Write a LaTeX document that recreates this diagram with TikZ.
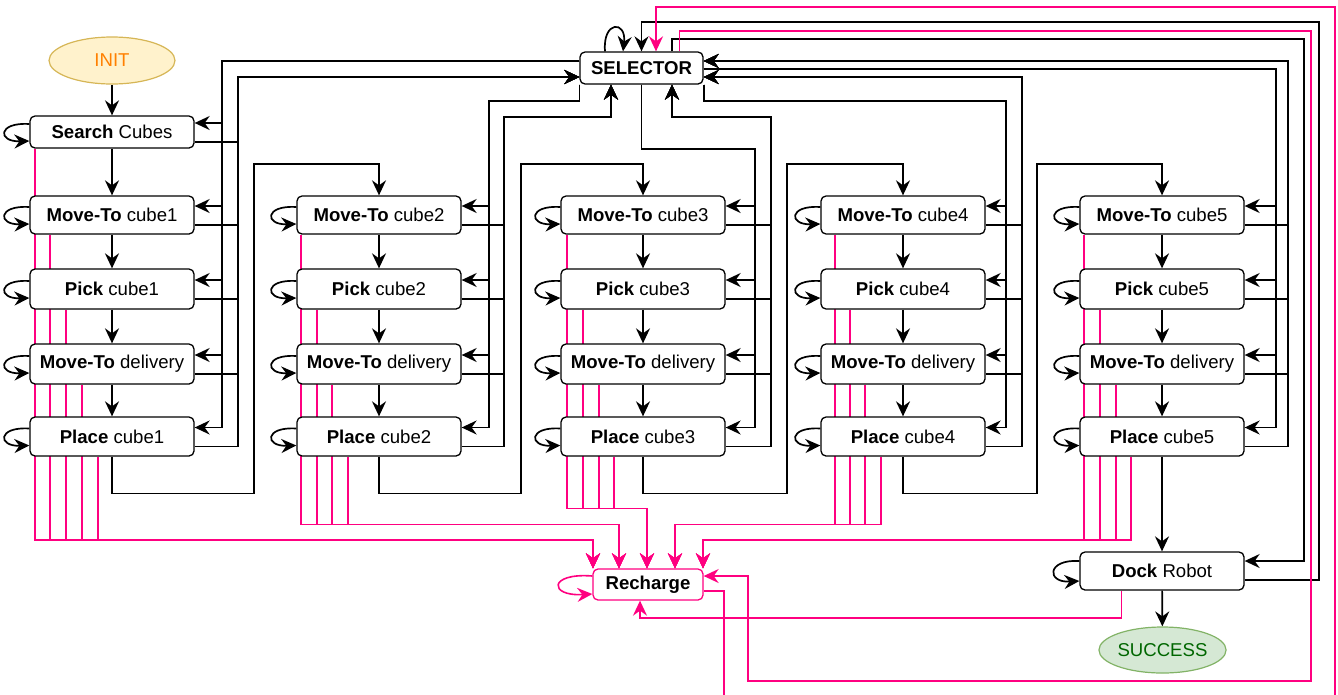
\documentclass[tikz,border=0pt]{standalone}
\usepackage{fontspec}
\setmainfont{Liberation Sans}
\usetikzlibrary{arrows.meta,calc,shapes.geometric}
\definecolor{pinkc}{HTML}{FF0080}
\definecolor{initfill}{HTML}{FFF2CC}
\definecolor{initdraw}{HTML}{D6B656}
\definecolor{inittext}{HTML}{FF8000}
\definecolor{succfill}{HTML}{D5E8D4}
\definecolor{succdraw}{HTML}{82B366}
\definecolor{succtext}{HTML}{006600}
\pgfdeclarelayer{edges}
\pgfsetlayers{edges,main}
\begin{document}
\begin{tikzpicture}[x=1pt,y=-1pt,
  font=\fontsize{18.6pt}{22pt}\selectfont,
  box/.style={draw, rounded corners=5pt, line width=1.3pt, fill=white, minimum width=164pt, minimum height=39pt, inner sep=0pt},
  oval/.style={ellipse, line width=1.2pt, minimum width=126pt, minimum height=47pt, inner sep=0pt},
  arr/.style={line width=1.7pt, -{Stealth[length=15pt,width=14pt,inset=5pt]}},
  parr/.style={pinkc, line width=1.6pt, -{Stealth[length=15pt,width=14pt,inset=5pt]}}
]
\useasboundingbox (0,0) rectangle (1338,694);
\clip (0,0) rectangle (1338,694);

% nodes
\node[oval, draw=initdraw, fill=initfill, text=inittext] (init) at (112,60.5) {INIT};
\node[box, minimum width=123pt, minimum height=32pt] (sel) at (641.5,68) {\textbf{SELECTOR}};
\node[box, minimum height=32pt] (s) at (112,132) {\textbf{Search} Cubes};
\foreach \i/\cx in {1/112,2/379,3/643,4/903,5/1162} {
  \node[box, minimum height=38pt] (m\i) at (\cx,215) {\textbf{Move-To} cube\i};
  \node[box, minimum height=40pt] (p\i) at (\cx,289) {\textbf{Pick} cube\i};
  \node[box, minimum height=40pt] (d\i) at (\cx,364) {\textbf{Move-To} delivery};
  \node[box, minimum height=39pt] (l\i) at (\cx,436.5) {\textbf{Place} cube\i};
}
\node[box, minimum height=38pt] (dock) at (1162,571) {\textbf{Dock} Robot};
\node[box, draw=pinkc, minimum width=110pt, minimum height=31pt] (rech) at (648,584.5) {\textbf{Recharge}};
\node[oval, draw=succdraw, fill=succfill, text=succtext, minimum width=127pt, minimum height=46pt] (succ) at (1162.5,650) {SUCCESS};

\begin{pgfonlayer}{edges}
% vertical chains
\draw[arr] (init) -- (s);
\draw[arr] (s) -- (m1);
\foreach \i in {1,...,5} {
  \draw[arr] (m\i) -- (p\i);
  \draw[arr] (p\i) -- (d\i);
  \draw[arr] (d\i) -- (l\i);
}
\draw[arr] (l5) -- (dock);
\draw[arr] (dock) -- (succ);
% column transitions
\draw[arr] (l1.south) |- (254,493.5) |- (379,164) -- (m2.north);
\draw[arr] (l2.south) |- (521,493.5) |- (643,164) -- (m3.north);
\draw[arr] (l3.south) |- (787,493.5) |- (903,164) -- (m4.north);
\draw[arr] (l4.south) |- (1037,493.5) |- (1162,164) -- (m5.north);

% self loops
\foreach \n in {s,m1,p1,d1,l1,m2,p2,d2,l2,m3,p3,d3,l3,m4,p4,d4,l4,m5,p5,d5,l5} {
  \draw[arr] ($(\n.west)+(0,-8)$) .. controls ($(\n.west)+(-32,-10)$) and ($(\n.west)+(-32,10)$) .. ($(\n.west)+(0,9)$);
}
\draw[arr] ($(dock.west)+(0,-10)$) .. controls ($(dock.west)+(-33,-12)$) and ($(dock.west)+(-33,12)$) .. ($(dock.west)+(0,10)$);
\draw[parr] ($(rech.west)+(0,-8.5)$) .. controls ($(rech.west)+(-44,-12)$) and ($(rech.west)+(-44,12)$) .. ($(rech.west)+(0,9.5)$);
\draw[arr] ($(sel.north)+(-36.5,0)$) .. controls ($(sel.north)+(-39,-31)$) and ($(sel.north)+(-15,-31)$) .. ($(sel.north)+(-18.5,0)$);

% selector <-> column 1
\foreach \n in {s,m1,p1,d1,l1} {
  \draw[arr] ($(sel.west)+(0,-7)$) -- (222,61) |- ($(\n.east)+(0,-9)$);
  \draw[arr] ($(\n.east)+(0,10)$) -| (238,77) -- ($(sel.west)+(0,9)$);
}
% column 2
\foreach \n in {m2,p2,d2,l2} {
  \draw[arr] (sel.south west) |- (489,101) |- ($(\n.east)+(0,-9)$);
  \draw[arr] ($(\n.east)+(0,10)$) -| (504,117) -| ($(sel.south)+(-30.5,0)$);
}
% column 3
\foreach \n in {m3,p3,d3,l3} {
  \draw[arr] (sel.south) |- (755,149) |- ($(\n.east)+(0,-9)$);
  \draw[arr] ($(\n.east)+(0,10)$) -| (771,117) -| ($(sel.south)+(30.5,0)$);
}
% column 4
\foreach \n in {m4,p4,d4,l4} {
  \draw[arr] (sel.south east) |- (1006,101) |- ($(\n.east)+(0,-9)$);
  \draw[arr] ($(\n.east)+(0,10)$) -| (1022,77) -- ($(sel.east)+(0,9)$);
}
% column 5
\foreach \n in {m5,p5,d5,l5} {
  \draw[arr] ($(sel.east)+(0,1)$) -- (1276,69) |- ($(\n.east)+(0,-9)$);
  \draw[arr] ($(\n.east)+(0,10)$) -| (1288,61) -- ($(sel.east)+(0,-7)$);
}
% dock <-> selector
\draw[arr] ($(sel.north)+(30.5,0)$) |- (1304,39) |- ($(dock.east)+(0,-10)$);
\draw[arr] ($(dock.east)+(0,9)$) -| (1319,22) -| (sel.north);

% recharge links
\draw[parr] ($(sel.north)+(38,0)$) |- (1311,31) |- (748,681) |- ($(rech.east)+(0,-8.5)$);
\draw[parr] ($(rech.east)+(0,6.5)$) -| (724,710) -| (1335,7) -| ($(sel.north)+(14.5,0)$);
\draw[parr] ($(dock.south)+(-40.5,0)$) |- (640,618) -- ($(rech.south)+(-8,0)$);

\foreach \n/\x in {s/35,m1/50,p1/66,d1/82,l1/98}
  \draw[parr] (\n.south -| \x,0) -- (\x,540) -| ($(rech.north)+(-55,0)$);
\foreach \n/\x in {m2/301,p2/317,d2/332,l2/348}
  \draw[parr] (\n.south -| \x,0) -- (\x,524.5) -| ($(rech.north)+(-29,0)$);
\foreach \n/\x in {m3/567,p3/583,d3/599,l3/614}
  \draw[parr] (\n.south -| \x,0) -- (\x,508.5) -| ($(rech.north)+(-1,0)$);
\foreach \n/\x in {m4/835,p4/850,d4/865,l4/881}
  \draw[parr] (\n.south -| \x,0) -- (\x,524.5) -| ($(rech.north)+(27,0)$);
\foreach \n/\x in {m5/1084,p5/1100,d5/1116,l5/1131}
  \draw[parr] (\n.south -| \x,0) -- (\x,540) -| ($(rech.north)+(55,0)$);
\end{pgfonlayer}
\end{tikzpicture}
\end{document}
